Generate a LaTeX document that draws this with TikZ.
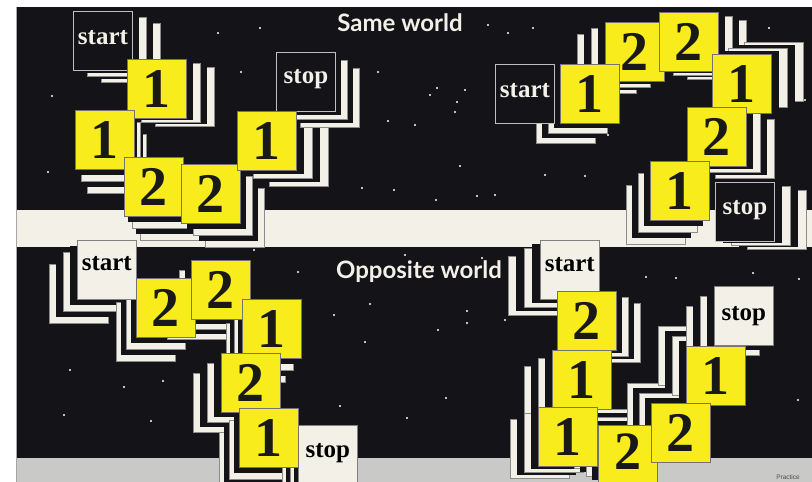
\documentclass[tikz,border=0pt]{standalone}
\usepackage{fontspec}
\setmainfont{Liberation Serif}
\newfontfamily\titlefont{Lato}
\newfontfamily\smallfont{Liberation Sans}
\definecolor{panel}{HTML}{131318}
\definecolor{cream}{HTML}{F3F0E8}
\definecolor{cardyellow}{HTML}{F8EC1C}
\definecolor{greyband}{HTML}{C9C9C7}
\tikzset{
  card/.style={draw=black!55, line width=0.7pt, fill=cardyellow, minimum width=59pt, minimum height=59pt,
    inner sep=0pt, anchor=north west, font=\fontsize{56}{56}\selectfont\bfseries, text=black!90},
  digit/.style={font=\fontsize{54}{54}\selectfont\bfseries, text=black!90, inner sep=0pt},
  darkbox/.style={draw=black!25, line width=0.9pt, fill=panel, minimum width=59pt, minimum height=59pt,
    inner sep=0pt, anchor=north west},
  lightbox/.style={draw=black!50, line width=0.6pt, fill=cream, minimum width=59pt, minimum height=59pt,
    inner sep=0pt, anchor=north west},
  boxtext/.style={font=\fontsize{25}{25}\selectfont\bfseries, inner sep=0pt},
  title/.style={font=\titlefont\bfseries\fontsize{24}{24}\selectfont, text=cream, inner sep=0pt},
  star/.style={fill=white},
  trailw/.style={fill=cream, draw=black!45, line width=0.4pt},
  trailb/.style={fill=panel},
}
\newcommand\cardtrail[4]{%
  \foreach \k/\s in {4/trailw,3/trailb,2/trailw,1/trailb}{%
    \path[\s] ({#1+\k*#3},{#2+\k*#4}) rectangle ++(59,59);
  }%
}
\begin{document}
\begin{tikzpicture}[x=1pt,y=-1pt]
\useasboundingbox (0,0) rectangle (812,482);
\clip (0,0) rectangle (812,482);
% page and panels
\fill[white] (0,0) rectangle (812,482);
\fill[panel] (17,7) rectangle (812,210);
\fill[cream] (17,210) rectangle (812,247);
\fill[panel] (17,247) rectangle (812,458);
\fill[greyband] (17,458) rectangle (812,482);
\draw[black!35, line width=0.8pt] (16.5,7) -- (16.5,482);
% stars
\foreach \p in {(218,33),(260,28),(241,72),(52,96),(48,172),(378,72),(388,121),(362,188),(394,190),
  (430,95),(465,90),(488,25),(533,28),(437,88),(415,125),(460,166),(436,200),(477,196),(508,33),
  (537,90),(457,102),(545,175),(495,195),(608,135),(585,176),(769,28),(805,100),(455,112),
  (298,272),(370,304),(334,315),(365,342),(70,370),(124,387),(163,381),(64,415),(151,421),
  (405,255),(433,267),(467,311),(467,323),(505,320),(530,404),(446,398),(646,277),(676,278),
  (753,273),(799,279),(798,400),(407,418),(340,406),(254,250),(482,258),(438,330)}
  \fill[star] \p circle (1.1);
% trails: top-left
\cardtrail{73}{11}{7}{3}
\cardtrail{127}{59}{7}{2}
\cardtrail{75}{110}{3}{6}
\cardtrail{124}{157}{4}{6}
\cardtrail{181}{164}{6}{6}
\cardtrail{237}{111}{8}{4}
\cardtrail{276}{52}{6}{4}
% trails: top-right
\cardtrail{560}{64}{-6}{5}
\cardtrail{605}{22}{-7}{3}
\cardtrail{659}{12}{7}{2}
\cardtrail{712}{54}{8}{-3}
\cardtrail{687}{107}{7}{3}
\cardtrail{650}{161}{-6}{6}
\cardtrail{715}{182}{8}{2}
% trails: bottom-left
\cardtrail{77}{240}{-7}{6}
\cardtrail{136}{278}{-5}{6}
\cardtrail{191}{260}{-6}{5}
\cardtrail{242}{299}{-4}{6}
\cardtrail{221}{353}{-7}{5}
\cardtrail{239}{408}{-5}{6}
\cardtrail{298}{425}{-4}{6}
% trails: bottom-right
\cardtrail{540}{240}{-8}{4}
\cardtrail{557}{291}{6}{3}
\cardtrail{552}{350}{-7}{4}
\cardtrail{538}{407}{-7}{3}
\cardtrail{598}{425}{-6}{-4}
\cardtrail{651}{403}{-6}{-5}
\cardtrail{686}{346}{-7}{-5}
\cardtrail{714}{286}{-7}{5}
% titles
\node[title] (t1) at (400,23) {Same world};
\node[title] (t2) at (419,272) {Opposite world};
% ---- top-left panel
\node[darkbox] (tls) at (73,11) {};
\node[boxtext, text=cream] (tlst) at ([yshift=-27pt]tls.north) {start};
\node[darkbox] (tlp) at (276,52) {};
\node[boxtext, text=cream] (tlpt) at ([yshift=-27pt]tlp.north) {stop};
\node[card] (tl1) at (127,59) {1};
\node[card] (tl2) at (75,110) {1};
\node[card] (tl3) at (124,157) {2};
\node[card] (tl4) at (181,164) {2};
\node[card] (tl5) at (237,111) {1};
% ---- top-right panel
\node[darkbox] (trs) at (495,64) {};
\node[boxtext, text=cream] (trst) at ([yshift=-27pt]trs.north) {start};
\node[card] (tr2) at (605,22) {2};
\node[card] (tr3) at (659,12) {2};
\node[card] (tr1) at (560,64) {1};
\node[card] (tr4) at (712,54) {1};
\node[card] (tr5) at (687,107) {2};
\node[darkbox] (trp) at (715,182) {};
\node[boxtext, text=cream] (trpt) at ([yshift=-28pt]trp.north) {stop};
\node[card] (tr6) at (650,161) {1};
% ---- bottom-left panel
\node[lightbox] (bls) at (77,240) {};
\node[boxtext, text=black] (blst) at ([yshift=-24pt]bls.north) {start};
\node[card] (bl1) at (136,278) {2};
\node[card] (bl2) at (191,260) {2};
\node[card] (bl3) at (242,299) {1};
\node[card] (bl4) at (221,353) {2};
\node[lightbox] (blp) at (298,425) {};
\node[boxtext, text=black] (blpt) at ([yshift=-28pt]blp.north) {stop};
\node[card] (bl5) at (239,408) {1};
% ---- bottom-right panel
\node[lightbox] (brs) at (540,240) {};
\node[boxtext, text=black] (brst) at ([yshift=-25pt]brs.north) {start};
\node[lightbox] (brp) at (714,286) {};
\node[boxtext, text=black] (brpt) at ([yshift=-30pt]brp.north) {stop};
\node[card] (br1) at (557,291) {2};
\node[card] (br2) at (552,350) {1};
\node[card] (br3) at (538,407) {1};
\node[card] (br5) at (686,346) {1};
\node[card] (br4) at (598,425) {};
\node[digit] (br4d) at ([yshift=-27pt]br4.north) {2};
\node[card] (br6) at (651,403) {2};
% footer
\node[font=\smallfont\fontsize{6.5}{6.5}\selectfont, text=black!70, inner sep=0pt] (prac) at (788,477) {Practice};
\end{tikzpicture}
\end{document}
